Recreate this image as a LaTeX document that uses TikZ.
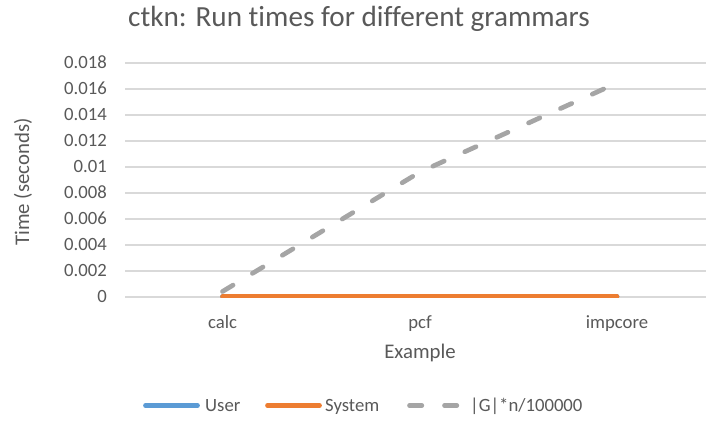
\documentclass[tikz,border=0pt]{standalone}
\usepackage{fontspec}
\setmainfont{Carlito}[Ligatures={NoCommon,NoRare,NoContextual}]
\definecolor{txt}{HTML}{595959}
\definecolor{gridc}{HTML}{D9D9D9}
\definecolor{ublue}{HTML}{5B9BD5}
\definecolor{sorange}{HTML}{ED7D31}
\definecolor{ggray}{HTML}{A5A5A5}
\tikzset{
  gridline/.style={draw=gridc, line width=1.6pt},
  lbl/.style={inner sep=0pt, text=txt, font=\fontsize{18.7}{20}\selectfont},
  axtitle/.style={inner sep=0pt, text=txt, font=\fontsize{20.8}{22}\selectfont},
  ctitle/.style={inner sep=0pt, text=txt, font=\fontsize{29.2}{32}\selectfont},
  userline/.style={draw=ublue, line width=4.7pt, line cap=round},
  sysline/.style={draw=sorange, line width=4.7pt, line cap=round},
  gline/.style={draw=ggray, line width=4.7pt, line cap=round, dash pattern=on 12.3pt off 22.7pt},
}
\begin{document}
\begin{tikzpicture}[x=1pt,y=-1pt]
\useasboundingbox (0,0) rectangle (706,420);
\fill[white] (0,0) rectangle (706,420);
% title
\node[ctitle, anchor=base] (title) at (359,27) {ctkn: Run times for different grammars};
% gridlines and tick labels
\foreach \k/\v in {0/0,1/0.002,2/0.004,3/0.006,4/0.008,5/0.01,6/0.012,7/0.014,8/0.016,9/0.018}{
  \coordinate (gl\k) at (125,{296.7-26*\k});
  \coordinate (gr\k) at (706,{296.7-26*\k});
  \draw[gridline] (gl\k) -- (gr\k);
  \node[lbl, anchor=base east] (t\k) at (107,{296.7-26*\k+6}) {\v};
}
% axis titles
\node[axtitle, rotate=90, anchor=base] (ytitle) at (29,182) {Time (seconds)};
\node[axtitle, anchor=base] (xtitle) at (420,358) {Example};
% category labels
\node[lbl, anchor=base] (calc) at (222.5,328) {calc};
\node[lbl, anchor=base] (pcf) at (420,328) {pcf};
\node[lbl, anchor=base] (impcore) at (617,328) {impcore};
% data points
\coordinate (u1) at (222.5,296.7);
\coordinate (u2) at (420,296.7);
\coordinate (u3) at (617,296.7);
\coordinate (g1) at (222.5,291.5);
\coordinate (g2) at (420,172);
\coordinate (g3) at (617,83);
\begin{scope}
\clip (123,40) rectangle (706,297.5);
\draw[userline] (u1) -- (u2) -- (u3);
\draw[sysline] (u1) -- (u2) -- (u3);
\draw[gline] (g1) -- (g2) -- (g3);
\end{scope}
% legend
\coordinate (lu1) at (145.5,405.5);
\coordinate (lu2) at (197.5,405.5);
\coordinate (ls1) at (267.5,405.5);
\coordinate (ls2) at (319.5,405.5);
\coordinate (lg1) at (409.5,405.5);
\coordinate (lg2) at (461.5,405.5);
\draw[userline] (lu1) -- (lu2);
\draw[sysline] (ls1) -- (ls2);
\draw[gline] (lg1) -- (lg2);
\node[lbl, anchor=base west] (luser) at (205,411.5) {User};
\node[lbl, anchor=base west] (lsys) at (325,411.5) {System};
\node[lbl, anchor=base west] (lg) at (470,411.5) {|G|*n/100000};
\end{tikzpicture}
\end{document}
